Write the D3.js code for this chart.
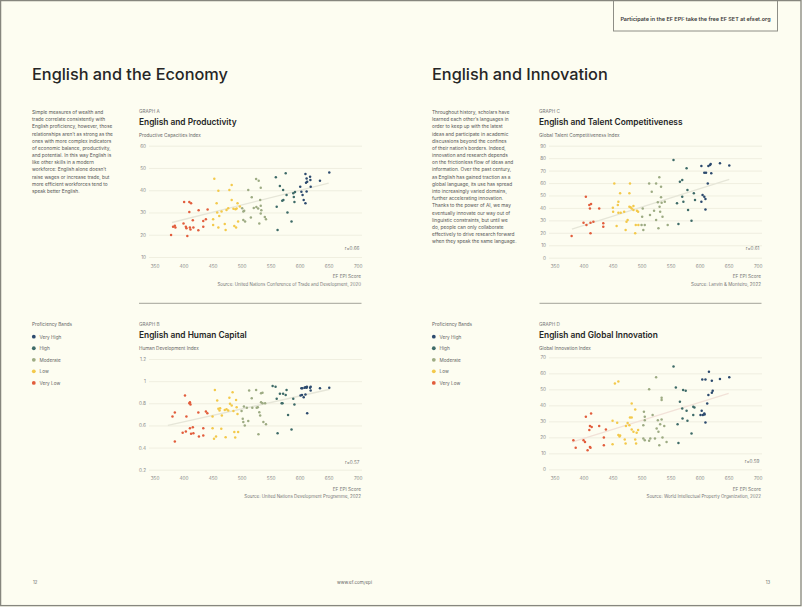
<!DOCTYPE html>
<html><head><meta charset="utf-8">
<script src="https://cdn.jsdelivr.net/npm/d3@7"></script>
<style>
html,body{margin:0;padding:0;background:#fdfdf1;}
svg{display:block;}
text{font-family:Inter,"Open Sans",sans-serif;}
</style></head><body>
<svg id="c" width="802" height="607"></svg>
<script>
// ---------- data ----------
const bandNames = ["Very High","High","Moderate","Low","Very Low"];
const bandColors = ["#2c4a6e","#3e6b68","#9dab83","#f3c94b","#e25d3c"];
const bandThresholds = [450,500,550,600];
const epiTicks = [350,400,450,500,550,600,650,700];

const ticksA = [10,20,30,40,50,60];
const ticksB = [0.2,0.4,0.6,0.8,1,1.2];
const ticksC = [0,10,20,30,40,50,60,70,80,90];
const ticksD = [0,10,20,30,40,50,60,70];

const epiA = [378.5,382,385,386,400,401,410,413,404,405,406.5,410,411,412,416,417,425.5,426,434,434,438.5,441.5,
 453,460,457,458,451,451,460,461.5,465.5,471,474,472.5,477,479,483,483,486,489.5,491.5,487.5,490.5,493,494,497,
 501,503,504.5,503,506,511.5,516,517.5,521,525.5,528.5,525,529.5,532,533,534,533,530.5,533,540,542,
 559,560.5,562,566,571.5,570,572,576,577.5,579,586,589,590,591,592,
 601,603,605,607,610,611,612,613,618,618.5,619,610,612,635,651];
const valA = [19.9,23.6,24,23.3,25.1,34.7,34.7,34.1,23.6,22.9,19.4,30.2,23.3,22.4,26.5,23.2,22,31,23.6,26.2,27,31.3,
 45.2,39.8,34.1,30,27,24.4,23.3,28.4,30.4,24.8,31.1,22.1,31.9,40.1,42.3,35.6,31.7,31.5,31.8,23.9,23.3,34.1,25.9,32.7,
 31.9,30.4,30.8,26.6,25.9,40.1,27.8,36.8,32,32.5,31.8,45,44.3,35.6,33,31,29.5,25.1,41.1,28,27,
 45.8,32.6,22.1,41.9,40.1,35.3,35.6,47.6,37.8,30,26,38.6,37,34.7,39.2,
 41.6,39.3,37.8,35.6,47.3,43.4,45.3,43.8,46,44.6,41.6,34.1,39.4,44.3,48];
const trendA = [[380,25.5],[650,43.2]];

const epiB = [381,385,385,398.5,402.5,404,405,410,411,412,411,413,416,417,425.5,426.5,434,434,438.5,441,
 450,450,454,452.5,456,458,460,462,463,465,466,471,474,477,472.5,479,480,483,484.5,486,487.5,489,490.5,491.5,494,493,
 500,502,503,504,505.5,509,511.5,513,517.5,518.5,525,526,528,529,530.5,532,533.5,536,533.5,536,537.5,542,540.5,
 553.5,558.5,560.5,562,566,571.5,569,570.5,577.5,576,580,586,589,591,
 601.5,604,603,604.5,608.5,610,612,612.5,607,610,613,618,619,619,635,651];
const valB = [0.68,0.716,0.455,0.533,0.87,0.545,0.68,0.80,0.81,0.79,0.575,0.524,0.584,0.53,0.716,0.50,0.575,0.51,0.725,0.71,
 0.68,0.575,0.92,0.48,0.50,0.825,0.75,0.735,0.755,0.57,0.69,0.74,0.745,0.735,0.494,0.85,0.795,0.78,0.90,0.73,0.54,0.49,0.83,0.764,0.54,0.704,
 0.73,0.66,0.63,0.77,0.60,0.76,0.64,0.915,0.846,0.76,0.92,0.76,0.765,0.52,0.72,0.69,0.89,0.895,0.81,0.80,0.63,0.61,0.80,
 0.957,0.95,0.84,0.53,0.885,0.885,0.80,0.80,0.92,0.875,0.695,0.563,0.84,0.79,
 0.87,0.875,0.935,0.935,0.94,0.945,0.94,0.95,0.855,0.88,0.71,0.94,0.95,0.915,0.935,0.94];
const trendB = [[373,0.60],[652,0.927]];

const epiC = [379.5,400,404,405,410,413,411,412,412,417,427,434,434,
 450.5,451,453,457,459,460,460,464,463,470,472.5,474,476,479,480,479,481,483,486,486,489,490,492,494,494.5,
 500,501,503,502,505.5,513,514.5,517.5,521.5,525,525,528,529,530.5,531,532,533.5,533.5,534.5,536,540,545,
 555,561,563.5,566,570,570,572,577.5,579,580,586,590,592,
 603,608,611,603,605,608,610,610,614,615,618,619,620,635,651];
const valC = [17.4,28.1,49,26.3,42.3,43.1,39.6,19.6,28.1,28.9,39.6,27.6,24.9,
 40.2,37,59.7,25.4,42.3,45,36.2,36.2,51.7,37,22.2,28.9,30.3,51.7,59.7,41,40.5,39.5,41.5,38.3,19.6,26.3,37.8,37,26.3,
 26.3,33,22.2,39.6,26.3,59.7,34.3,53,37.8,30.3,59.7,44.5,23.6,64.6,41,37,57,48.5,44.2,33,45,26.3,
 78.5,43.7,27.1,61,62.4,49,45,71.8,54.4,38.3,29.7,51.7,46.3,
 73.7,68.3,68.3,45,50.4,49,47.2,38.8,59.7,73.7,74.5,75.3,67.8,75.8,74];
const trendC = [[380,23],[651,63]];

const epiD = [382.5,386.5,400,402.5,404,407,410,411,411,412,413,414,427,435,435,438.5,
 450,450,454,460,458,460,462,463,471,472.5,473,476,479,480,483,483,483,486,489,489,490.5,491.5,494,
 503,504,505.5,505.5,503,505.5,513,513,515,519,523,525,526,528,529,530.5,532,534.5,534.5,534.5,536,539,543,
 555,559,562,563.5,566,570,570.5,571.5,576,577.5,579,586,589,591,589,
 601.5,605.5,603.5,604.5,610,608,608.5,610,613,615,616,621,621,622.5,635,651];
const valD = [18.2,13.4,18.2,17.1,32.8,11.9,24.5,27,14,13.4,34.9,26.5,27,19.9,15,24.9,
 30.3,15.7,53.7,54.8,29.1,21.5,20.5,21.2,18.6,16.1,27,29,27.6,32.4,32.4,41.2,24.9,23.4,37.4,18.6,16.1,22.8,24.5,
 27.6,36,32.8,30.7,19.2,18.2,50,17.8,19.2,33.9,19.2,57.5,25.5,30.7,23.4,15,28.2,44.7,43.3,31.1,19.9,27,17.1,
 64.2,51.2,28.2,16.5,42.2,38,31.8,49.5,49.1,36.6,30.3,22.4,39.1,38.7,33.9,
 33.9,33.9,36.6,56.2,56.2,34.9,34.3,29.3,41.2,46.4,61,55.4,47.9,49.1,56.4,57.5];
const trendD = [[380,17],[650,47.5]];

const textLeft = ["Simple measures of wealth and","trade correlate consistently with","English proficiency, however, those",
 "relationships aren’t as strong as the","ones with more complex indicators","of economic balance, productivity,",
 "and potential. In this way English is","like other skills in a modern","workforce: English alone doesn’t",
 "raise wages or increase trade, but","more efficient workforces tend to","speak better English."];
const textRight = ["Throughout history, scholars have","learned each other’s languages in","order to keep up with the latest",
 "ideas and participate in academic","discussions beyond the confines","of their nation’s borders. Indeed,",
 "innovation and research depends","on the frictionless flow of ideas and","information. Over the past century,",
 "as English has gained traction as a","global language, its use has spread","into increasingly varied domains,",
 "further accelerating innovation.","Thanks to the power of AI, we may","eventually innovate our way out of",
 "linguistic constraints, but until we","do, people can only collaborate","effectively to drive research forward",
 "when they speak the same language."];

// ---------- drawing ----------
const svg = d3.select("#c");
const FONT = 'Inter,"Open Sans",sans-serif';
svg.append("rect").attr("width",802).attr("height",607).attr("fill","#fdfdf1");

function fit(sel, w){
  const len = sel.node().getComputedTextLength();
  const fs = parseFloat(sel.attr("font-size"));
  sel.attr("font-size", fs*w/len);
  return fs*w/len;
}

// page headings
const h1 = svg.append("text").attr("x",32).attr("y",80).attr("font-size",17).attr("font-weight",500)
  .attr("fill","#262626").text("English and the Economy");
const hs = fit(h1,196);
svg.append("text").attr("x",432).attr("y",80).attr("font-size",hs).attr("font-weight",500)
  .attr("fill","#262626").text("English and Innovation");

// paragraphs
function para(lines,x,y0){
  const g = svg.append("g");
  lines.forEach((l,i)=>g.append("text").attr("x",x).attr("y",y0+i*7.18).attr("font-size",5).attr("fill","#555").text(l));
  return g;
}
const pl = para(textLeft,32,114);
const probe = pl.selectAll("text").filter((d,i)=>i===3);
const ps = fit(probe,81);
pl.selectAll("text").attr("font-size",ps);
para(textRight,432,114).selectAll("text").attr("font-size",ps);

// small font size from an axis title
const probe2 = svg.append("text").attr("font-size",5).text("Productive Capacities Index");
const SM = fit(probe2,62); probe2.remove();

// legend
function legend(ox){
  const g = svg.append("g");
  g.append("text").attr("x",32+ox).attr("y",325.8).attr("font-size",SM).attr("fill","#666").text("Proficiency Bands");
  bandNames.forEach((b,i)=>{
    const y = 336.7 + i*11.55;
    g.append("circle").attr("cx",33.8+ox).attr("cy",y).attr("r",1.9).attr("fill",bandColors[i]);
    g.append("text").attr("x",39.5+ox).attr("y",y+1.9).attr("font-size",SM).attr("fill","#666").text(b);
  });
}
legend(0); legend(400);

// dividers
svg.append("line").attr("x1",139).attr("x2",361.5).attr("y1",303.3).attr("y2",303.3).attr("stroke","#a3a39a").attr("stroke-width",1);
svg.append("line").attr("x1",539.5).attr("x2",761.5).attr("y1",303.3).attr("y2",303.3).attr("stroke","#a3a39a").attr("stroke-width",1);

const color = d3.scaleThreshold().domain(bandThresholds).range(bandColors.slice().reverse());

let titleSize = null;
function graph(o){
  const ox = o.ox;
  const g = svg.append("g");
  g.append("text").attr("x",139+ox).attr("y",o.labY).attr("font-size",SM).attr("fill","#777").text(o.label);
  const t = g.append("text").attr("x",139+ox).attr("y",o.titY).attr("font-size",10).attr("font-weight",600).attr("fill","#262626").text(o.title);
  if(titleSize===null) titleSize = fit(t,97.7); else t.attr("font-size",titleSize);
  g.append("text").attr("x",139+ox).attr("y",o.yTitY).attr("font-size",SM).attr("fill","#666").text(o.yTitle);

  const x = d3.scaleLinear().domain([350,700]).range([154.5+ox,357.7+ox]);
  const y = d3.scaleLinear().domain(o.yDomain).range(o.yRange);
  const gx0 = 149+ox, gx1 = 362+ox;

  const ya = g.append("g").attr("transform",`translate(${gx0},0)`)
    .call(d3.axisLeft(y).tickValues(o.yTicks).tickSize(-(gx1-gx0)).tickPadding(3).tickFormat(d=>String(d)));
  ya.select(".domain").remove();
  ya.selectAll("line").attr("stroke","#ecebdc").attr("stroke-width",0.8);
  ya.selectAll("text").attr("font-size",SM).attr("font-family",FONT).attr("fill","#888");

  const xa = g.append("g").attr("transform",`translate(0,${o.xLabY})`)
    .call(d3.axisBottom(x).tickValues(epiTicks).tickSize(0).tickPadding(0).tickFormat(d=>String(d)));
  xa.select(".domain").remove();
  xa.selectAll("text").attr("font-size",SM).attr("font-family",FONT).attr("fill","#888").attr("dy","0");

  // trend line
  g.append("path").datum(o.trend)
    .attr("d", d3.line().x(d=>x(d[0])).y(d=>y(d[1])))
    .attr("stroke",o.trendColor).attr("stroke-width",1.4).attr("fill","none");

  const pts = o.epi.map((e,i)=>({e, v:o.val[i]}));
  g.append("g").selectAll("circle").data(pts).join("circle")
    .attr("cx",d=>x(d.e)).attr("cy",d=>y(d.v)).attr("r",1.25).attr("fill",d=>color(d.e));

  g.append("text").attr("x",359.5+ox).attr("y",o.rY).attr("text-anchor","end").attr("font-size",SM).attr("fill","#777").text(o.r);
  g.append("text").attr("x",361+ox).attr("y",o.epiY).attr("text-anchor","end").attr("font-size",SM).attr("fill","#777").text("EF EPI Score");
  const s = g.append("text").attr("x",361+ox).attr("y",o.srcY).attr("text-anchor","end").attr("font-size",SM).attr("fill","#777").text(o.source);
  fit(s,o.srcW);
}

graph({ox:0,label:"GRAPH A",title:"English and Productivity",yTitle:"Productive Capacities Index",
  labY:112.6,titY:125,yTitY:136.6,yDomain:[10,60],yRange:[257,145.7],yTicks:ticksA,xLabY:268.2,
  epi:epiA,val:valA,trend:trendA,trendColor:"#e6e6d8",r:"r=0.66",rY:250,epiY:278,srcY:286,
  source:"Source: United Nations Conference of Trade and Development, 2020",srcW:143.5});
graph({ox:0,label:"GRAPH B",title:"English and Human Capital",yTitle:"Human Development Index",
  labY:325.8,titY:338,yTitY:349.5,yDomain:[0.2,1.2],yRange:[469.7,359],yTicks:ticksB,xLabY:479.5,
  epi:epiB,val:valB,trend:trendB,trendColor:"#e6e6d8",r:"r=0.57",rY:464,epiY:490.5,srcY:498,
  source:"Source: United Nations Development Programme, 2022",srcW:116.5});
graph({ox:400,label:"GRAPH C",title:"English and Talent Competitiveness",yTitle:"Global Talent Competitiveness Index",
  labY:112.6,titY:125,yTitY:136.6,yDomain:[0,90],yRange:[257.7,145.7],yTicks:ticksC,xLabY:268.2,
  epi:epiC,val:valC,trend:trendC,trendColor:"#e6e6d8",r:"r=0.61",rY:250,epiY:278,srcY:286,
  source:"Source: Lanvin & Monteiro, 2022",srcW:70});
graph({ox:400,label:"GRAPH D",title:"English and Global Innovation",yTitle:"Global Innovation Index",
  labY:325.8,titY:338,yTitY:349.5,yDomain:[0,70],yRange:[469.3,357.3],yTicks:ticksD,xLabY:479.5,
  epi:epiD,val:valD,trend:trendD,trendColor:"#f2e2d8",r:"r=0.59",rY:463,epiY:490.5,srcY:498,
  source:"Source: World Intellectual Property Organization, 2022",srcW:114.5});

// top-right box
svg.append("rect").attr("x",613.5).attr("y",-2).attr("width",164).attr("height",33).attr("fill","none").attr("stroke","#8e8e86").attr("stroke-width",1);
const pt = svg.append("text").attr("x",695.5).attr("y",21).attr("text-anchor","middle").attr("font-size",SM).attr("font-weight",600).attr("fill","#3a3a3a")
  .text("Participate in the EF EPI: take the free EF SET at efset.org");
fit(pt,150);

// footer
svg.append("text").attr("x",33).attr("y",584.3).attr("font-size",SM*0.9).attr("fill","#666").text("12");
const ft = svg.append("text").attr("x",354.5).attr("y",584.3).attr("text-anchor","middle").attr("font-size",SM*0.9).attr("fill","#666").text("www.ef.com/epi");
fit(ft,35);
svg.append("text").attr("x",768).attr("y",584.3).attr("text-anchor","middle").attr("font-size",SM*0.9).attr("fill","#666").text("13");

// page border
svg.append("rect").attr("x",0.6).attr("y",0.6).attr("width",800.4).attr("height",605).attr("fill","none").attr("stroke","#86867e").attr("stroke-width",1.3);
</script>
</body></html>
